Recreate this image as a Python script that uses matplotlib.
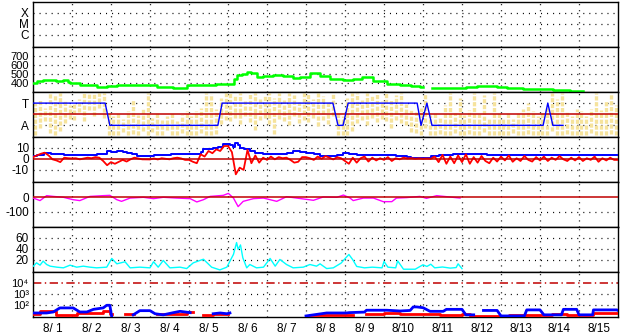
import matplotlib
matplotlib.use("Agg")
import matplotlib.pyplot as plt
import numpy as np

plt.rcParams['font.family'] = ['Liberation Sans', 'DejaVu Sans']
plt.rcParams['font.size'] = 8.5
plt.rcParams['lines.scale_dashes'] = False

# time axis: days since 8/1 00:00
day_labels = ['8/ 1', '8/ 2', '8/ 3', '8/ 4', '8/ 5', '8/ 6', '8/ 7', '8/ 8',
              '8/ 9', '8/10', '8/11', '8/12', '8/13', '8/14', '8/15']

# solar wind speed (km/s)
v_t = [0.0, 0.1, 0.25, 0.44, 0.6, 0.78, 0.9, 0.95, 1.2, 1.4, 1.63, 1.9, 2.15, 2.4,
       2.66, 2.9, 3.17, 3.4, 3.6, 3.8, 3.94, 4.1, 4.37, 4.7, 5.05, 5.12, 5.15, 5.22,
       5.35, 5.48, 5.6, 5.74, 5.9, 6.16, 6.4, 6.67, 6.85, 7.1, 7.25, 7.36, 7.62, 7.95,
       8.21, 8.43, 8.72, 9.07, 9.41, 9.7, 9.92, 10.0, 10.22, 10.5, 10.78, 11.1, 11.38,
       11.6, 11.89, 12.15, 12.57, 13.0, 13.34, 13.77, 14.11]
v_kms = [400, 420, 426, 426, 420, 426, 410, 400, 374, 370, 356, 360, 374, 378,
         374, 372, 356, 348, 341, 345, 374, 372, 374, 380, 385, 385, 440, 481,
         500, 518, 510, 463, 478, 481, 470, 452, 460, 511, 505, 474, 444, 426,
         437, 463, 415, 389, 370, 365, 352, np.nan, 341, 343, 344, 352, 363,
         360, 352, 344, 330, 325, 322, 311, 307]

# IMF sector (T = +1 / A = -1), predicted sector line
sec_t = [0, 1.85, 1.97, 4.74, 4.85, 7.69, 7.82, 7.95, 8.08, 9.85, 9.95, 10.1, 10.23,
         13.08, 13.2, 13.33, 13.59]
sec_v = [1, 1, -1, -1, 1, 1, -1, -1, 1, 1, -1, 1, -1, -1, 1, -1, -1]

# observed sector scatter (3-hour bins): low / high
yel_lo = [-1.9, -1.2, -0.6, -1.7, -1.9, -1.5, -0.8, -0.4,
          -0.5, 0.2, -0.6, 0.4, -0.2, 0.6, -0.3, -1.9,
          -1.9, -1.9, -1.6, -1.9, -1.8, -1.9, -1.5, -1.9,
          -1.6, -1.9, -1.9, -1.4, -1.9, -1.9, -1.7, -1.9,
          -1.9, -1.9, -1.7, -1.9, -1.9, -1.8, -0.9, -0.5,
          -0.6, -0.3, -0.9, -0.2, -0.7, -1.4, -0.5, -0.3,
          -0.9, -1.8, -0.4, -0.6, -1.0, -0.2, -0.8, -0.5,
          -0.7, -0.3, -1.1, -0.5, -0.9, -0.2, -1.9, -1.9,
          -1.9, -1.5, -0.8, -0.5, -1.0, -0.3, -0.7, -0.4,
          -0.6, -1.2, -0.5, -0.8, -1.0, -1.6, -1.7, -1.9,
          -1.2, -1.9, -1.9, -1.8, -1.9, -1.9, -1.7, -1.9,
          -1.9, -1.8, -1.9, -1.9, -1.6, -1.9, -1.9, -1.9,
          -1.9, -1.9, -1.7, -1.9, -1.9, -1.8, -1.9, -1.9,
          -1.9, -1.9, -1.5, -1.9, -1.9, -1.8, -1.9, -1.9,
          -1.9, -1.9, -1.7, -1.9, -1.9, -1.9, -1.8, -1.9]
yel_hi = [1.0, 1.3, 0.6, 1.9, 1.7, 1.9, 1.2, 0.8,
          0.9, 1.4, 1.9, 1.9, 1.8, 1.9, 1.9, 0.2,
          -0.2, 0.1, -0.4, 0.3, 1.3, -0.1, 0.5, 1.9,
          -0.3, 0.2, -0.5, -0.2, 0.1, -0.6, -0.1, 0.3,
          -0.2, 0.3, 0.6, 1.9, 1.8, 0.5, 1.5, 1.9,
          1.9, 1.6, 1.9, 1.2, 1.8, 1.9, 1.4, 1.7,
          1.9, 1.5, 1.9, 1.3, 1.9, 1.7, 1.1, 1.9,
          1.9, 1.4, 1.9, 1.6, 1.2, 1.8, 0.1, -0.2,
          1.5, 1.9, 1.9, 1.3, 1.9, 1.6, 1.8, 1.2,
          1.9, 1.4, 1.7, 1.9, 0.9, 0.5, 0.2, 0.6,
          1.9, -0.1, 0.2, -0.3, 0.8, 1.9, 0.1, 1.5,
          -0.1, 0.4, 1.9, 0.0, 1.7, -0.3, 1.9, 0.2,
          -0.3, 0.2, -0.4, 0.1, 0.5, 1.0, 0.3, -0.2,
          0.2, 0.6, 1.9, 1.4, 1.9, 0.3, -0.2, 0.5,
          0.3, -0.2, 0.5, 1.9, 0.4, 1.2, 1.9, 0.8]

# IMF |B| (nT)
bt_t = [0, 0.1, 0.27, 0.45, 0.61, 0.8, 0.95, 1.2, 1.4, 1.63, 1.89, 2.0, 2.15, 2.3, 2.4,
        2.55, 2.66, 2.92, 3.1, 3.34, 3.55, 3.77, 4.0, 4.2, 4.3, 4.37, 4.5, 4.62, 4.75,
        4.88, 5.05, 5.12, 5.18, 5.25, 5.3, 5.4, 5.56, 5.7, 5.9, 6.1, 6.33, 6.5, 6.67,
        6.85, 7.01, 7.2, 7.36, 7.6, 7.8, 7.95, 8.1, 8.3, 8.5, 8.8, 9.0, 9.3, 9.6, 9.7,
        9.9, 10.0, 10.2, 10.4, 10.78, 11.0, 11.3, 11.63, 12.0, 12.5, 13.0, 13.5, 14.0,
        14.5, 15.0]
bt_nt = [2.4, 3.5, 5.5, 4.5, 4.0, 3.5, 3.3, 3.0, 3.5, 4.0, 7.0, 6.5, 7.0, 6.0, 5.5,
         4.0, 2.4, 2.4, 3.0, 3.0, 4.0, 4.5, 4.5, 4.5, 6.0, 8.5, 9.0, 9.4, 10.5,
         13.0, 12.4, 11.0, 14.5, 12.0, 10.0, 8.5, 7.0, 5.5, 4.5, 4.5, 4.0, 5.0, 7.0,
         6.0, 5.5, 4.0, 2.4, 2.4, 3.5, 5.5, 4.0, 3.5, 3.0, 3.5, 3.0, 2.5, 2.0, 1.0,
         0.8, 0.5, 2.4, 3.0, 4.5, 4.5, 4.5, 3.5, 3.3, 3.0, 3.3, 3.0, 3.2,
         3.0, 3.0]

# IMF Bz (nT), every 0.1 day
bz_nt = [1.5, 3.0, 4.5, 5.5, 3.0, -0.5, -1.5, -3.0, 1.0, 0.5,
         0.3, 0.5, -0.5, 0.3, 1.0, 0.5, 1.5, 1.0, -2.0, -5.8,
         -3.0, -4.5, -2.7, -1.0, -2.5, -0.5, 1.0, 0.3, -0.5, -0.6,
         -0.6, 0.3, -0.6, 0.5, 0.0, -0.5, 0.5, 1.0, 0.3, -1.0,
         -1.0, -2.7, -4.0, 4.0, 2.0, 7.0, 5.0, 8.5, 7.0, 11.5,
         11.5, 6.0, -14.0, -8.0, -10.0, 8.0, -4.0, 3.0, -3.5, 1.0,
         -1.0, 2.0, -0.5, 1.5, 0.5, 1.0, -1.0, -3.5, -2.7, 1.5,
         1.5, 0.5, -1.0, 2.0, 0.0, 2.4, 1.0, -0.6, 1.5, 0.5,
         -2.0, -4.5, 1.0, -3.5, 0.5, 2.0, -2.5, 1.0, -1.5, 0.5,
         -1.0, 1.5, -2.0, 0.5, -0.5, 1.0, 0.3, 0.5, 0.0, 0.3,
         0.0, 0.2, 0.0, 2.0, -3.0, 3.5, -4.5, 2.0, -4.0, 3.0,
         -3.0, 4.0, -4.5, 1.5, -3.5, 2.5, -2.0, -4.0, 1.0, -2.5,
         2.0, -1.5, 3.0, -2.7, 0.5, -2.0, 2.5, -1.0, -2.5, 1.5,
         -1.5, 2.0, -2.0, 1.0, -1.0, 2.4, -0.5, -2.0, 1.0, -1.5,
         1.5, -2.0, 0.5, -1.0, 2.0, -2.7, 0.5, -1.5, 1.0, -1.0,
         -1.0]
bz_t = np.arange(len(bz_nt)) * 0.1

# Dst (nT)
dst_t = [0.01, 0.18, 0.35, 0.52, 0.78, 1.03, 1.2, 1.46, 1.8, 1.97, 2.15, 2.27, 2.49,
         2.83, 3.09, 3.34, 3.68, 4.03, 4.2, 4.37, 4.54, 4.88, 5.01, 5.14, 5.26, 5.39,
         5.65, 5.91, 6.25, 6.5, 6.76, 7.19, 7.44, 7.79, 7.96, 8.13, 8.21, 8.47, 8.73,
         8.98, 9.2, 9.32, 9.58, 9.92, 10.09, 10.35, 10.61, 10.95]
dst_nt = [-7, -24, 9, 4, -2, -18, -24, 4, 9, 11, -18, -29, -7,
          -2, -11, -2, -7, -11, -33, -18, 4, 11, 24, -7, -64, -29,
          -11, -7, -29, 2, -7, -22, 0, -2, 13, -7, -24, -7, -7,
          -31, -31, -7, -4, 4, -9, 9, 2, -7]

# plasma density (/cc)
den_t = [0.01, 0.09, 0.18, 0.26, 0.35, 0.44, 0.61, 0.78, 0.95, 1.12, 1.29, 1.46, 1.63,
         1.89, 2.02, 2.15, 2.36, 2.49, 2.74, 3.0, 3.09, 3.21, 3.34, 3.51, 3.77, 3.94,
         4.11, 4.37, 4.58, 4.79, 4.97, 5.14, 5.22, 5.26, 5.32, 5.38, 5.48, 5.56, 5.73,
         5.91, 6.08, 6.21, 6.33, 6.5, 6.67, 6.93, 7.1, 7.27, 7.36, 7.53, 7.7, 7.9, 8.0,
         8.1, 8.2, 8.3, 8.5, 8.7, 8.95, 9.0, 9.1, 9.3, 9.35, 9.5, 9.8, 10.0, 10.1,
         10.2, 10.3, 10.5, 10.7, 10.85, 10.9, 11.0]
den_cc = [8.5, 14.5, 10.3, 17.6, 11.5, 8.5, 6.7, 5.5, 10.3, 6.7, 8.5, 6.7, 5.5,
          6.7, 22.4, 12.7, 16.4, 5.5, 6.7, 5.5, 16.4, 6.7, 18.8, 5.5, 6.7, 4.2,
          14.5, 21.0, 6.7, 1.8, 6.7, 29.7, 51.0, 38.8, 46.7, 23.6, 5.5, 11.5, 5.5,
          6.7, 22.4, 8.5, 20.6, 11.5, 5.5, 6.7, 11.5, 8.5, 12.7, 4.2, 5.5, 14.0, 22.0,
          29.6, 20.0, 8.0, 5.5, 6.7, 5.5, 17.0, 6.7, 5.5, 18.0, 3.0, 3.0, 11.0, 8.0,
          12.0, 5.5, 7.0, 5.0, 6.0, 12.7, 4.0]

# particle flux, log10 values
pb_t = [0.01, 0.35, 0.52, 0.69, 1.03, 1.2, 1.38, 1.55, 1.8, 1.89, 1.97, 2.02, 2.1,
        2.57, 2.74, 3.0, 3.13, 3.34, 3.6, 3.77, 4.03, 4.11, 4.55, 4.62, 4.8, 4.97,
        5.05, 5.1, 6.95, 7.0, 7.53, 8.04, 8.1, 8.5, 8.55, 9.07, 9.41, 9.67, 9.75,
        9.84, 10.0, 10.18, 10.52, 10.6, 11.0, 11.1, 11.3, 11.4, 11.55, 11.9, 12.0,
        12.6, 12.66, 13.0, 13.1, 13.55, 13.6, 13.94, 14.0, 14.35, 14.37, 14.97, 15.0]
pb_log = [1.27, 1.27, 1.36, 1.73, 1.73, 1.36, 1.36, 1.6, 1.73, 1.97, 1.97, 0.9, np.nan,
          1.1, 1.48, 1.48, 1.2, 1.1, 1.3, 1.42, 1.3, np.nan, np.nan, 1.2, 1.27, 1.2,
          1.27, np.nan, np.nan, 1.0, 1.27, 1.27, 1.3, 1.35, 1.52, 1.52, 1.45, 1.5, 1.82,
          1.82, 1.75, 1.42, 1.42, 1.6, 1.6, 1.1, 1.1, np.nan, 1.5, 1.5, 1.0,
          1.0, 1.55, 1.55, 1.1, 1.1, 1.6, 1.6, 1.1, 1.1, 1.55, 1.55, 1.5]
pr_t = [0.0, 0.18, 0.52, 0.6, 1.03, 1.12, 1.63, 1.8, 1.97, 2.02, 2.36, 2.57, 2.6,
        3.17, 3.77, 3.95, 4.1, 4.37, 4.45, 4.62, 4.97, 5.0, 7.1, 8.1, 8.2, 8.55, 9.0,
        9.4, 9.92, 10.44, 11.0, 11.2, 12.2, 12.6, 13.0, 13.3, 13.7, 14.3, 14.37, 15.0]
pr_log = [1.2, 1.48, 1.48, 1.12, 1.12, 1.3, 1.3, 1.45, 1.2, np.nan, 1.2, 1.2, np.nan,
          1.2, 1.2, 1.35, np.nan, 1.1, 1.1, 1.15, 1.15, np.nan, 1.05, 1.05, np.nan,
          1.15, 1.3, 1.2, 1.2, 1.1, 1.15, 1.0, 1.1, 1.1, 1.05, 1.2, 1.1, 1.1, 1.25, 1.25]
flux_labels = ['10\u2074', '10\u00b3', '10\u00b2']

DOT = (0, (0.75, 3.6))
DKRED = '#c00000'

fig = plt.figure(figsize=(6.28, 3.34), dpi=100)
W, H = 628, 334
x0, x1, top0, ph = 33, 618, 2, 45
axes = []
for i in range(7):
    top = top0 + ph * i
    ax = fig.add_axes([x0 / W, 1 - (top + ph) / H, (x1 - x0) / W, ph / H])
    ax.set_xlim(0, 15)
    ax.tick_params(length=0, pad=3, labelsize=8.5, colors='black')
    for s in ax.spines.values():
        s.set_linewidth(1.0)
    for d in range(1, 15):
        ax.axvline(d, color='black', lw=0.9, ls=DOT, zorder=1)
    ax.set_xticks([])
    axes.append(ax)


def hgrid(ax, levels):
    for y in levels:
        ax.axhline(y, color='black', lw=0.9, ls=DOT, zorder=1)


# panel 1: X-ray class
ax = axes[0]
ax.set_ylim(-0.1, 4.0)
ax.set_yticks([3, 2, 1], ['X', 'M', 'C'])
hgrid(ax, [3, 2, 1])

# panel 2: speed
ax = axes[1]
ax.set_ylim(296, 800)
ax.set_yticks([700, 600, 500, 400], ['700', '600', '500', '400'])
ax.tick_params(axis='y', labelsize=8)
hgrid(ax, [700, 600, 500, 400])
ax.plot(v_t, v_kms, color='#00ff00', lw=1.8, drawstyle='steps-post', zorder=3)

# panel 3: sector
ax = axes[2]
ax.set_ylim(-2.05, 2.0)
ax.set_yticks([1, -1], ['T', 'A'])
hgrid(ax, [1, -1])
yel_t = np.arange(len(yel_lo)) * 0.125 + 0.0625
ax.vlines(yel_t, yel_lo, yel_hi, color='#f6e39c', lw=2.4,
          linestyles=[(0, (3, 1.2))], zorder=2)
ax.axhline(0, color=DKRED, lw=1.1, zorder=3)
ax.plot(sec_t, sec_v, color='#0000ff', lw=1.0, zorder=4)

# panel 4: IMF
ax = axes[3]
ax.set_ylim(-20.9, 19.6)
ax.set_yticks([10, 0, -10], ['10', '0', '-10'])
hgrid(ax, [10, -10])
ax.plot(bt_t, bt_nt, color='#0000ff', lw=1.4, drawstyle='steps-post', zorder=3)
ax.plot(bz_t, bz_nt, color='#ff0000', lw=1.3, zorder=4)
ax.axhline(0, color=DKRED, lw=1.1, zorder=5)

# panel 5: Dst
ax = axes[4]
ax.set_ylim(-200, 100)
ax.set_yticks([0, -100], ['0', '-100'])
hgrid(ax, [-100])
ax.plot(dst_t, dst_nt, color='#ff00ff', lw=1.0, zorder=3)
ax.axhline(0, color=DKRED, lw=1.1, zorder=4)

# panel 6: density
ax = axes[5]
ax.set_ylim(-2, 79)
ax.set_yticks([60, 40, 20], ['60', '40', '20'])
hgrid(ax, [60, 40, 20])
ax.plot(den_t, den_cc, color='#00ffff', lw=1.0, zorder=3)

# panel 7: particle flux (log)
ax = axes[6]
ax.set_yscale('log')
ax.set_ylim(8, 1e5)
ax.set_yticks([1e4, 1e3, 1e2], flux_labels)
ax.minorticks_off()
ax.tick_params(which='both', length=0)
ax.tick_params(axis='y', labelsize=8)
hgrid(ax, [1e3, 1e2])
ax.axhline(1e4, color=DKRED, lw=1.1, ls=(0, (6, 2.5, 1, 2.5)), zorder=2)
ax.plot(pr_t, 10 ** np.array(pr_log), color='#ff0000', lw=2.0,
        drawstyle='steps-post', zorder=3)
ax.plot(pb_t, 10 ** np.array(pb_log), color='#0000ff', lw=2.0, zorder=4)
ax.set_xticks(np.arange(15) + 0.5, day_labels)
ax.tick_params(axis='x', length=0, pad=4)

fig.savefig('out.png', dpi=100)
